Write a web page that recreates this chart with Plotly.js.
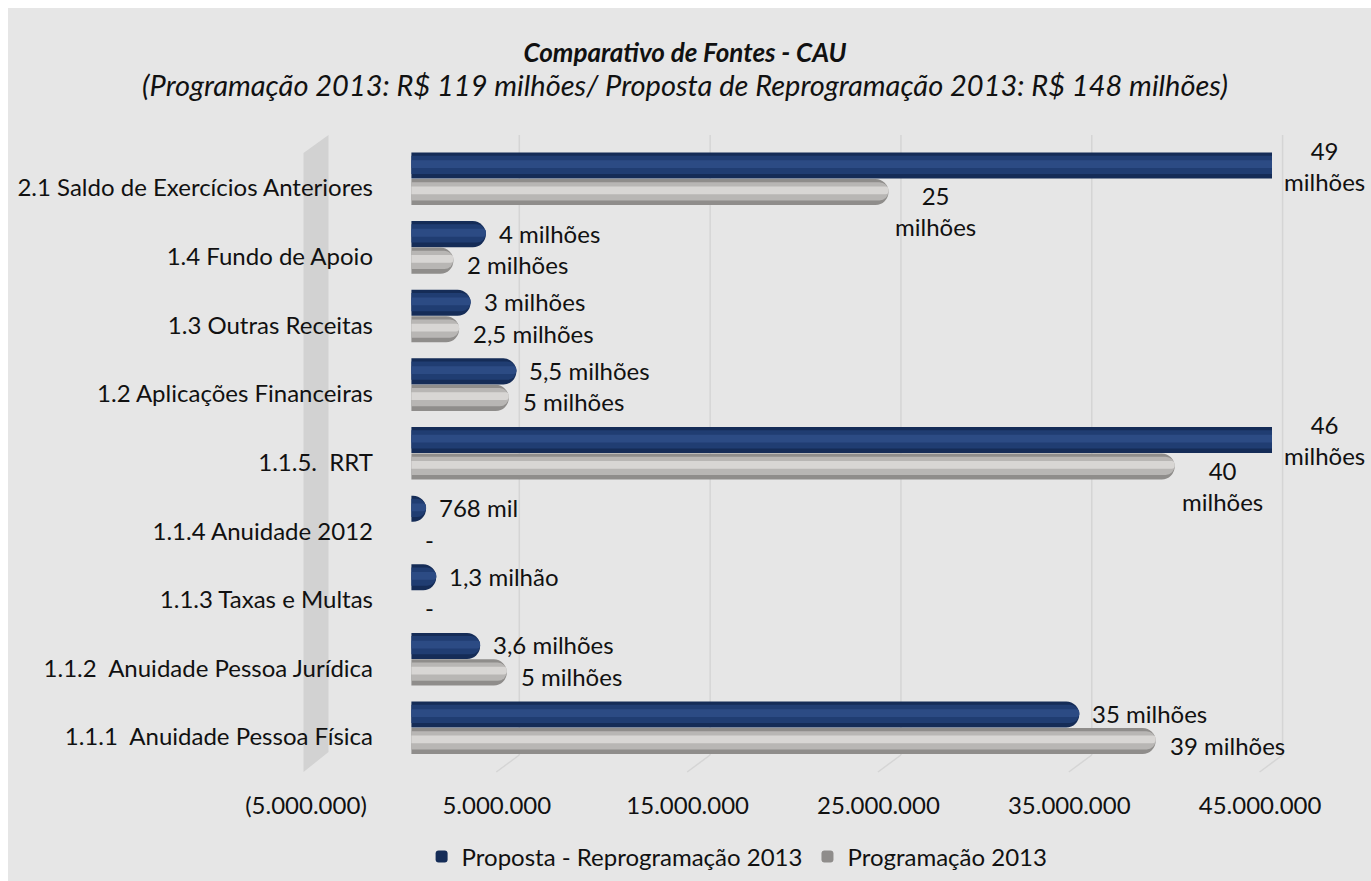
<!DOCTYPE html>
<html>
<head>
<meta charset="utf-8">
<script src="https://cdn.plot.ly/plotly-3.0.1.min.js"></script>
<style>
  html, body { margin: 0; padding: 0; background: #ffffff; }
  #chart { position: absolute; left: 8px; top: 8px; width: 1363px; height: 873px; }
</style>
</head>
<body>
<div id="chart"></div>
<script>
// ---------------- DATA ----------------
const categories = [
  '1.1.1\u00a0 Anuidade Pessoa Física',
  '1.1.2\u00a0 Anuidade Pessoa Jurídica',
  '1.1.3 Taxas e Multas',
  '1.1.4 Anuidade 2012',
  '1.1.5.\u00a0 RRT',
  '1.2 Aplicações Financeiras',
  '1.3 Outras Receitas',
  '1.4 Fundo de Apoio',
  '2.1 Saldo de Exercícios Anteriores'
];
const propostaValues    = [35000000, 3600000, 1300000, 768000, 46000000, 5500000, 3100000, 3900000, 49000000];
const programacaoValues = [39000000, 5000000, 0, 0, 40000000, 5100000, 2500000, 2200000, 25000000];
const propostaLabels    = ['35 milhões', '3,6 milhões', '1,3 milhão', '768 mil', '46<br>milhões', '5,5 milhões', '3 milhões', '4 milhões', '49<br>milhões'];
const programacaoLabels = ['39 milhões', '5 milhões', '-', '-', '40<br>milhões', '5 milhões', '2,5 milhões', '2 milhões', '25<br>milhões'];
const tickValues = [-5000000, 5000000, 15000000, 25000000, 35000000, 45000000];
const tickLabels = ['(5.000.000)', '5.000.000', '15.000.000', '25.000.000', '35.000.000', '45.000.000'];
const seriesNames = ['Proposta - Reprogramação 2013', 'Programação 2013'];
const titleText = 'Comparativo de Fontes - CAU';
const subtitleText = '(Programação 2013: R$ 119 milhões/ Proposta de Reprogramação 2013: R$ 148 milhões)';

// ---------------- LAYOUT GEOMETRY (page px) ----------------
const DIV_L = 8, DIV_T = 8, DIV_W = 1363, DIV_H = 873;
const PL = 315.5, PR = 1272.4, PT = 140, PB = 770;
const xRange = [-5000000, 45100000];
const yRange = [-0.48, 8.70];
const plotW = PR - PL, plotH = PB - PT;
const FONT = 'Lato, "Open Sans", sans-serif';
const TXT = '#111111';
const FS = 24;

function pxOf(v) { return PL + (v - xRange[0]) / (xRange[1] - xRange[0]) * plotW; }
function paperX(px) { return (px - PL) / plotW; }
function paperY(py) { return (PB - py) / plotH; }

// bar geometry (category units)
const BAR_W = 0.38;
const BLUE_C = 0.328, GRAY_C = -0.058;

function barTrace(name, values, color, center, width, showlegend) {
  return {
    type: 'bar', orientation: 'h', name: name,
    y: categories, x: values,
    offset: center - width / 2, width: width,
    marker: { color: color, cornerradius: '50%', line: { width: 0 } },
    showlegend: showlegend, hoverinfo: 'skip'
  };
}

const traces = [
  barTrace(seriesNames[0], propostaValues, '#152c57', BLUE_C, BAR_W, true),
  barTrace(seriesNames[0], propostaValues, '#203d72', BLUE_C + 0.01, BAR_W * 0.7, false),
  barTrace(seriesNames[0], propostaValues, '#2c4b84', BLUE_C + 0.02, BAR_W * 0.3, false),
  barTrace(seriesNames[1], programacaoValues, '#8f8d8b', GRAY_C, BAR_W, true),
  barTrace(seriesNames[1], programacaoValues, '#b8b6b4', GRAY_C + 0.01, BAR_W * 0.7, false),
  barTrace(seriesNames[1], programacaoValues, '#d8d6d4', GRAY_C + 0.025, BAR_W * 0.3, false)
];

// ---------------- SHAPES (3D wall + slanted gridlines) ----------------
const shapes = [];
shapes.push({
  type: 'path', xref: 'paper', yref: 'paper', layer: 'below',
  path: 'M' + paperX(303) + ',' + paperY(772) +
        ' L' + paperX(328) + ',' + paperY(752) +
        ' L' + paperX(328) + ',' + paperY(135) +
        ' L' + paperX(303) + ',' + paperY(153) + ' Z',
  fillcolor: '#d2d2d2', line: { width: 0 }
});
tickValues.slice(1).forEach(function (v) {
  const bx = pxOf(v) + 12.5;
  shapes.push({ type: 'line', xref: 'paper', yref: 'paper', layer: 'below',
    x0: paperX(bx), x1: paperX(bx), y0: paperY(135), y1: paperY(755),
    line: { color: '#d5d5d5', width: 1.5 } });
  shapes.push({ type: 'line', xref: 'paper', yref: 'paper', layer: 'below',
    x0: paperX(bx), x1: paperX(bx - 23), y0: paperY(755), y1: paperY(772),
    line: { color: '#d5d5d5', width: 1.5 } });
});

// ---------------- DATA LABELS ----------------
const annotations = [];
function addLabels(values, labels, center, isBlue) {
  values.forEach(function (v, i) {
    const txt = labels[i];
    const multi = txt.indexOf('<br>') >= 0;
    const xv = Math.min(v, xRange[1] * 0.9999);
    let xshift, yshift;
    if (isBlue) { xshift = multi ? 10 : 11; yshift = multi ? 0 : 1; }
    else { xshift = multi ? 5 : 12; yshift = multi ? -19 : -4; }
    annotations.push({
      xref: 'x', yref: 'y', x: xv, y: i + center,
      text: txt, showarrow: false, xanchor: 'left', yanchor: 'middle',
      align: 'center', xshift: xshift, yshift: yshift,
      font: { family: FONT, size: FS, color: TXT }
    });
  });
}
addLabels(propostaValues, propostaLabels, BLUE_C, true);
addLabels(programacaoValues, programacaoLabels, GRAY_C, false);

// ---------------- LAYOUT ----------------
const layout = {
  width: DIV_W, height: DIV_H,
  paper_bgcolor: '#e6e6e6', plot_bgcolor: 'rgba(0,0,0,0)',
  margin: { l: PL - DIV_L, r: DIV_L + DIV_W - PR, t: PT - DIV_T, b: DIV_T + DIV_H - PB, pad: 0, autoexpand: false },
  font: { family: FONT, size: FS, color: TXT },
  barmode: 'overlay',
  hovermode: false,
  title: {
    text: '<b><i>' + titleText + '</i></b><br><span style="font-size:29px"><i>' + subtitleText + '</i></span>',
    font: { family: FONT, size: 26, color: TXT },
    x: (685 - DIV_L) / DIV_W, xref: 'container', xanchor: 'center',
    y: 1 - (62 - DIV_T) / DIV_H, yref: 'container', yanchor: 'middle'
  },
  xaxis: {
    range: xRange, tickvals: tickValues, ticktext: tickLabels,
    showgrid: false, zeroline: false, showline: false, ticks: '',
    tickfont: { family: FONT, size: FS, color: TXT },
    ticklabelshift: -10, ticklabelstandoff: 19, fixedrange: true
  },
  yaxis: {
    type: 'category', categoryorder: 'array', categoryarray: categories,
    range: yRange, showgrid: false, zeroline: false, showline: false, ticks: '',
    tickfont: { family: FONT, size: FS, color: TXT },
    ticklabelstandoff: -58, fixedrange: true
  },
  legend: {
    orientation: 'h', x: paperX(737), xanchor: 'center', y: paperY(857), yanchor: 'middle',
    font: { family: FONT, size: FS, color: TXT }, bgcolor: 'rgba(0,0,0,0)',
    itemwidth: 30
  },
  shapes: shapes,
  annotations: annotations
};

Plotly.newPlot('chart', traces, layout, { displayModeBar: false, staticPlot: true });
</script>
</body>
</html>
